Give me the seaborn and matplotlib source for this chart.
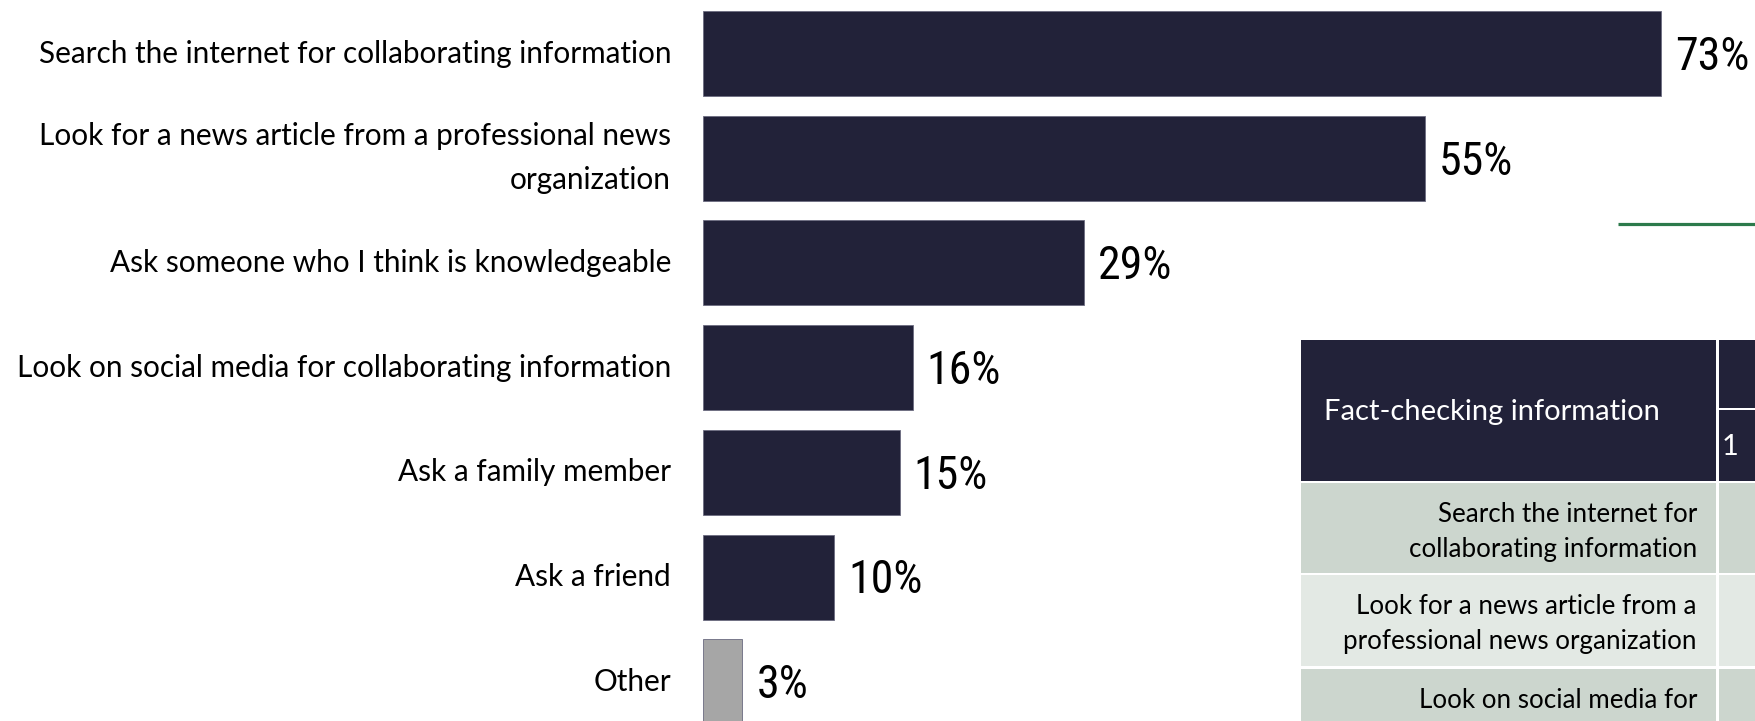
import matplotlib
matplotlib.use("Agg")
import matplotlib.pyplot as plt
from matplotlib.patches import Rectangle
from matplotlib import font_manager
import seaborn as sns
import pandas as pd

# Survey responses: how people fact-check information
methods = [
    "Search the internet for collaborating information",
    "Look for a news article from a professional news\norganization",
    "Ask someone who I think is knowledgeable",
    "Look on social media for collaborating information",
    "Ask a family member",
    "Ask a friend",
    "Other",
]
shares = [73, 55, 29, 16, 15, 10, 3]

# Breakdown table shown at the right
table_title = "Fact-checking information"
table_subheader = "1"
table_rows = [
    "Search the internet for\ncollaborating information",
    "Look for a news article from a\nprofessional news organization",
    "Look on social media for\ncollaborating information",
]

NAVY = "#222239"
GREY = "#a6a6a6"
ROW_DARK = "#ccd6ce"
ROW_LIGHT = "#e3e9e4"
GREEN = "#2c7a4b"

sns.set_theme(style="white")
plt.rcParams["font.family"] = ["Lato", "DejaVu Sans"]

# A narrow face for the value labels when one is available
installed = {f.name for f in font_manager.fontManager.ttflist}
value_font, value_size = ["Lato"], 28
for name, size in [("Roboto Condensed", 33), ("Liberation Sans Narrow", 33),
                   ("Open Sans Condensed", 32)]:
    if name in installed:
        value_font, value_size = [name, "Lato"], size
        break

W, H = 1755, 721
fig = plt.figure(figsize=(W / 100, H / 100), dpi=100)

# Background layer in pixel coordinates for the table and the rule
bg = fig.add_axes([0, 0, 1, 1])
bg.set_xlim(0, W)
bg.set_ylim(H, 0)
bg.axis("off")

bg.plot([1618, W], [224, 224], color=GREEN, lw=2.3, solid_capstyle="butt")

col1 = (1301, 1716)
col2 = (1719, W + 5)
header = (340, 481)
row_bounds = [(483, 573), (575, 666), (669, 760)]

bg.add_patch(Rectangle((col1[0], header[0]), col1[1] - col1[0], header[1] - header[0],
                       facecolor=NAVY, edgecolor="none"))
bg.add_patch(Rectangle((col2[0], header[0]), col2[1] - col2[0], 408 - header[0],
                       facecolor=NAVY, edgecolor="none"))
bg.add_patch(Rectangle((col2[0], 410), col2[1] - col2[0], header[1] - 410,
                       facecolor=NAVY, edgecolor="none"))
bg.text(1492, 412, table_title, color="white", fontsize=21, ha="center", va="center")
bg.text(1722, 447, table_subheader, color="white", fontsize=21, ha="left", va="center")

for i, (label, (y0, y1)) in enumerate(zip(table_rows, row_bounds)):
    fc = ROW_DARK if i % 2 == 0 else ROW_LIGHT
    bg.add_patch(Rectangle((col1[0], y0), col1[1] - col1[0], y1 - y0, facecolor=fc, edgecolor="none"))
    bg.add_patch(Rectangle((col2[0], y0), col2[1] - col2[0], y1 - y0, facecolor=fc, edgecolor="none"))
    bg.text(1697, (y0 + y1) / 2 + 4, label, color="black", fontsize=18.7, ha="right",
            va="center", linespacing=1.5)

# Bar chart
df = pd.DataFrame({"method": methods, "share": shares})
colors = [NAVY] * (len(methods) - 1) + [GREY]

left_px = 703
px_per_pct = 958 / 73
pitch = 104.7
first_center = 53.5

ax = fig.add_axes([left_px / W, 0, 1 - left_px / W, 1])
ax.patch.set_alpha(0)
sns.barplot(data=df, x="share", y="method", hue="method", palette=colors,
            legend=False, width=85 / pitch, ax=ax, saturation=1,
            edgecolor="#6b6b80", linewidth=0.6)

ax.set_xlim(0, (W - left_px) / px_per_pct)
ax.set_ylim((H - first_center) / pitch, -first_center / pitch)

for cont, v in zip(ax.containers, shares):
    for t in ax.bar_label(cont, labels=[f"{v}%"], padding=10, fontsize=value_size,
                          color="black", family=value_font):
        t.xyann = (10, -2.5)

ax.set_xlabel("")
ax.set_ylabel("")
ax.set_xticks([])
ax.tick_params(axis="y", length=0, pad=23, labelsize=21.4, labelcolor="black")
for lbl in ax.get_yticklabels():
    lbl.set_linespacing(1.7)
    lbl.set_verticalalignment("center")
sns.despine(ax=ax, left=True, bottom=True)

fig.savefig("out.png", dpi=100)
